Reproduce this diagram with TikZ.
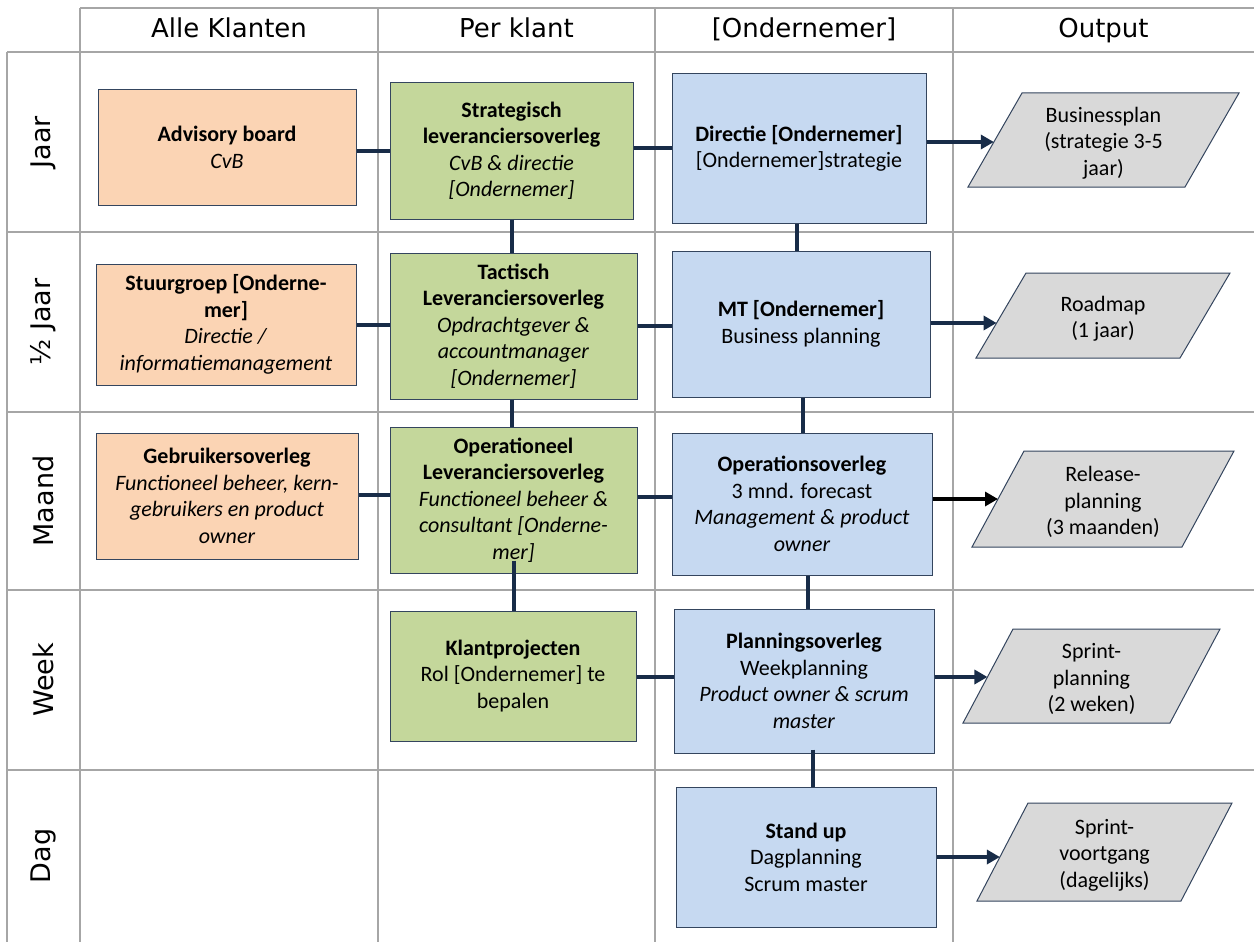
\documentclass[tikz,border=0pt]{standalone}
\usepackage{fontspec}
\setmainfont{Carlito}
\newfontfamily\hdrfont{DejaVu Sans}
\usetikzlibrary{arrows.meta}
\definecolor{peach}{HTML}{FBD4B4}
\definecolor{olive}{HTML}{C4D79B}
\definecolor{lblue}{HTML}{C6D9F1}
\definecolor{outgray}{HTML}{D9D9D9}
\definecolor{boxline}{HTML}{34455E}
\definecolor{connblue}{HTML}{182C48}
\definecolor{gridgray}{HTML}{A6A6A6}
\tikzset{
  gridline/.style={draw=gridgray, line width=1.8pt},
  box/.style={draw=boxline, line width=1pt, align=center, inner sep=2pt,
    font=\fontsize{22}{26.5}\selectfont, text=black},
  orangebox/.style={box, fill=peach},
  greenbox/.style={box, fill=olive},
  bluebox/.style={box, fill=lblue},
  conn/.style={draw=connblue, line width=4.8pt},
  arr/.style={conn, -{Triangle[length=13pt,width=14pt]}},
  hdr/.style={font=\hdrfont\fontsize{26}{30}\selectfont, inner sep=0pt, anchor=base},
  rowlbl/.style={font=\hdrfont\fontsize{27}{30}\selectfont, inner sep=0pt, rotate=90},
  outline/.style={draw=boxline, line width=1pt, fill=outgray},
  outtext/.style={align=center, inner sep=0pt, font=\fontsize{22}{26.5}\selectfont}
}
% #1 name, #2 bottom-left x, #3 top y, #4 bottom y, #5 width, #6 slant, #7 arrow y, #8 text
\newcommand\drawparallel[8]{%
  \draw[outline] (#2,#4) -- ({#2+#6},#3) -- ({#2+#6+#5},#3) -- ({#2+#5},#4) -- cycle;
  \node[outtext] (#1) at ({#2+(#5+#6)/2},{(#3+#4)/2+3}) {#8};
  \coordinate (#1in) at ({#2+#6*(#4-#7)/(#4-#3)},#7);
}
\begin{document}
\begin{tikzpicture}[x=1pt,y=-1pt]
\useasboundingbox (0,0) rectangle (1254,942);
% grid
\draw[gridline] (80,8) -- (1254,8);
\foreach \yy in {52,232,412,590,770} \draw[gridline] (7,\yy) -- (1254,\yy);
\draw[gridline] (7,52) -- (7,942);
\foreach \xx in {80,378,655,953} \draw[gridline] (\xx,8) -- (\xx,942);
% headers
\node[hdr] (h1) at (229,38) {Alle Klanten};
\node[hdr] (h2) at (516.5,38) {Per klant};
\node[hdr] (h3) at (804,38) {[Ondernemer]};
\node[hdr] (h4) at (1103.5,38) {Output};
% row labels
\node[rowlbl] (r1) at (43,142) {Jaar};
\node[rowlbl] (r2) at (43,322) {½ Jaar};
\node[rowlbl] (r3) at (43,501) {Maand};
\node[rowlbl] (r4) at (43,680) {Week};
\node[rowlbl] (r5) at (43,856) {Dag};
% Jaar
\node[orangebox, minimum width=258pt, minimum height=115pt] (adv) at (227,147.5)
  {\textbf{Advisory board}\\\textit{CvB}};
\node[greenbox, minimum width=243pt, minimum height=136pt] (strat) at (511.5,151)
  {\textbf{Strategisch}\\\textbf{leveranciersoverleg}\\\textit{CvB \& directie}\\\textit{[Ondernemer]}};
\node[bluebox, minimum width=254pt, minimum height=149pt] (dir) at (799,148.5)
  {\textbf{Directie [Ondernemer]}\\{}[Ondernemer]strategie};
\drawparallel{bp}{968}{93}{187}{217}{54}{142}{Businessplan\\(strategie 3-5\\jaar)}
% Half jaar
\node[orangebox, minimum width=260pt, minimum height=121pt] (sg) at (226,324.5)
  {\textbf{Stuurgroep [Onderne-}\\\textbf{mer]}\\\textit{Directie /}\\\textit{informatiemanagement}};
\node[greenbox, minimum width=247pt, minimum height=146pt] (tac) at (513.5,326)
  {\textbf{Tactisch}\\\textbf{Leveranciersoverleg}\\\textit{Opdrachtgever \&}\\\textit{accountmanager}\\\textit{[Ondernemer]}};
\node[bluebox, minimum width=258pt, minimum height=146pt] (mt) at (801,324)
  {\textbf{MT [Ondernemer]}\\Business planning};
\drawparallel{rm}{976}{273}{358}{204}{50}{323}{Roadmap\\(1 jaar)}
% Maand
\node[orangebox, minimum width=262pt, minimum height=126pt] (geb) at (227,496)
  {\textbf{Gebruikersoverleg}\\\textit{Functioneel beheer, kern-}\\\textit{gebruikers en product}\\\textit{owner}};
\node[greenbox, minimum width=247pt, minimum height=146pt] (opl) at (513.5,500)
  {\textbf{Operationeel}\\\textbf{Leveranciersoverleg}\\\textit{Functioneel beheer \&}\\\textit{consultant [Onderne-}\\\textit{mer]}};
\node[bluebox, minimum width=260pt, minimum height=142pt] (ops) at (802,504)
  {\textbf{Operationsoverleg}\\3 mnd. forecast\\\textit{Management \& product}\\\textit{owner}};
\drawparallel{rel}{972}{451}{547}{210}{52}{499}{Release-\\planning\\(3 maanden)}
% Week
\node[greenbox, minimum width=246pt, minimum height=130pt] (kp) at (513,676)
  {\textbf{Klantprojecten}\\Rol [Ondernemer] te\\bepalen};
\node[bluebox, minimum width=260pt, minimum height=144pt] (plan) at (804,681)
  {\textbf{Planningsoverleg}\\Weekplanning\\\textit{Product owner \& scrum}\\\textit{master}};
\drawparallel{sp}{963}{629}{723}{207}{50}{677}{Sprint-\\planning\\(2 weken)}
% Dag
\node[bluebox, minimum width=260pt, minimum height=140pt] (su) at (806,857)
  {\textbf{Stand up}\\Dagplanning\\Scrum master};
\drawparallel{sv}{977}{803}{901}{204}{51}{857}{Sprint-\\voortgang\\(dagelijks)}
% horizontal connectors
\draw[conn] (adv.east |- 0,151) -- (strat.west |- 0,151);
\draw[conn] (strat.east |- 0,148) -- (dir.west |- 0,148);
\draw[conn] (sg.east |- 0,325) -- (tac.west |- 0,325);
\draw[conn] (tac.east |- 0,326) -- (mt.west |- 0,326);
\draw[conn] (geb.east |- 0,495) -- (opl.west |- 0,495);
\draw[conn] (opl.east |- 0,497) -- (ops.west |- 0,497);
\draw[conn] (kp.east |- 0,677) -- (plan.west |- 0,677);
% vertical connectors
\draw[conn] (strat.south -| 512,0) -- (tac.north -| 512,0);
\draw[conn] (dir.south -| 797,0) -- (mt.north -| 797,0);
\draw[conn] (tac.south -| 512,0) -- (opl.north -| 512,0);
\draw[conn] (mt.south -| 803,0) -- (ops.north -| 803,0);
\draw[conn, shorten <=-13pt] (opl.south -| 514,0) -- (kp.north -| 514,0);
\draw[conn] (ops.south -| 808,0) -- (plan.north -| 808,0);
\draw[conn, shorten <=-4pt] (plan.south -| 813,0) -- (su.north -| 813,0);
% arrows to outputs
\draw[arr] (dir.east |- bpin) -- (bpin);
\draw[arr] (mt.east |- rmin) -- (rmin);
\draw[arr, draw=black] (ops.east |- relin) -- (relin);
\draw[arr] (plan.east |- spin) -- (spin);
\draw[arr] (su.east |- svin) -- (svin);
\end{tikzpicture}
\end{document}
